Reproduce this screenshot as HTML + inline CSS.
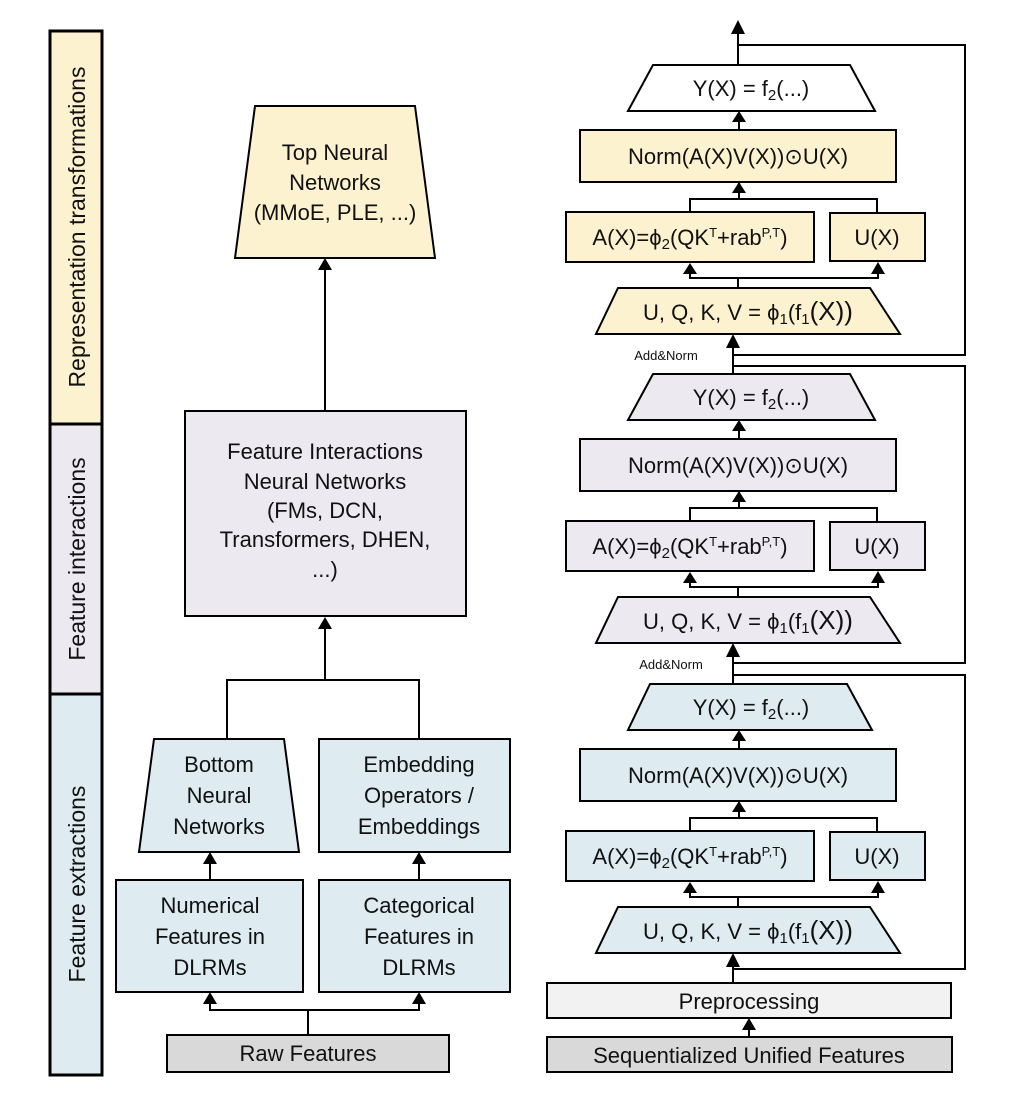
<!DOCTYPE html>
<html><head><meta charset="utf-8"><style>
html,body{margin:0;padding:0;background:#fff}
svg{display:block}
text{font-family:"Liberation Sans",sans-serif;fill:#111}
</style></head><body>
<svg width="1010" height="1112" viewBox="0 0 1010 1112" xmlns="http://www.w3.org/2000/svg">
<defs>
<g id="blk" stroke="#000" stroke-width="2">
  <rect x="580" y="130" width="316" height="52"/>
  <rect x="566" y="212" width="248" height="50"/>
  <rect x="830" y="213" width="95" height="48"/>
  <polygon points="618,288 870,288 900,334 596,334"/>
  <polyline points="690,212 690,199 877,199 877,213" fill="none"/>
  <line x1="739" y1="199" x2="739" y2="183"/>
  <polyline points="690,270 690,278 878,278 878,270" fill="none"/>
  <line x1="738" y1="278" x2="738" y2="288"/>
  <path d="M683,274 L690,263 L697,274Z M871,274 L878,262 L885,274Z M732,193 L739,182 L746,193Z M732,122 L739,111 L746,122Z" fill="#000" stroke="none"/>
  <line x1="739" y1="130" x2="739" y2="118"/>
</g>
</defs>
<!-- sidebar -->
<rect x="50" y="31" width="52" height="393" fill="#fdf2d0" stroke="#000" stroke-width="3"/>
<rect x="50" y="424" width="52" height="270" fill="#ece9f1" stroke="#000" stroke-width="3"/>
<rect x="50" y="694" width="52" height="381" fill="#deebf1" stroke="#000" stroke-width="3"/>
<text transform="translate(85,227) rotate(-90)" text-anchor="middle" font-size="23">Representation transformations</text>
<text transform="translate(85,559) rotate(-90)" text-anchor="middle" font-size="23">Feature interactions</text>
<text transform="translate(85,884) rotate(-90)" text-anchor="middle" font-size="23">Feature extractions</text>

<!-- left diagram -->
<g stroke="#000" stroke-width="2">
<polygon points="255,106 415,106 435,258 235,258" fill="#fdf2d0"/>
<rect x="185" y="411" width="281" height="205" fill="#ece9f1"/>
<line x1="325" y1="411" x2="325" y2="268"/>
<line x1="325" y1="680" x2="325" y2="626"/>
<polyline points="227,739 227,680 419,680 419,739" fill="none"/>
<polygon points="154,739 284,739 299,852 139,852" fill="#deebf1"/>
<rect x="319" y="739" width="191" height="113" fill="#deebf1"/>
<rect x="116" y="880" width="187" height="112" fill="#deebf1"/>
<rect x="319" y="880" width="191" height="112" fill="#deebf1"/>
<line x1="210" y1="880" x2="210" y2="862"/>
<line x1="419" y1="880" x2="419" y2="862"/>
<polyline points="210,1002 210,1010 419,1010 419,1002" fill="none"/>
<line x1="308" y1="1010" x2="308" y2="1035"/>
<rect x="167" y="1035" width="282" height="37" fill="#d9d9d9"/>
</g>
<path d="M318,270 L325,258 L332,270Z M318,629 L325,617 L332,629Z M203,864 L210,852 L217,864Z M412,864 L419,852 L426,864Z M203,1004 L210,992 L217,1004Z M412,1004 L419,992 L426,1004Z" fill="#000"/>
<g font-size="22" text-anchor="middle">
<text x="335" y="160">Top Neural</text><text x="335" y="190">Networks</text><text x="335" y="220">(MMoE, PLE, ...)</text>
<text x="325" y="459">Feature Interactions</text><text x="325" y="489">Neural Networks</text><text x="325" y="518">(FMs, DCN,</text><text x="325" y="547">Transformers, DHEN,</text><text x="325" y="577">...)</text>
<text x="219" y="772">Bottom</text><text x="219" y="803">Neural</text><text x="219" y="834">Networks</text>
<text x="419" y="772">Embedding</text><text x="419" y="803">Operators /</text><text x="419" y="834">Embeddings</text>
<text x="210" y="913">Numerical</text><text x="210" y="944">Features in</text><text x="210" y="975">DLRMs</text>
<text x="419" y="913">Categorical</text><text x="419" y="944">Features in</text><text x="419" y="975">DLRMs</text>
<text x="308" y="1061">Raw Features</text>
</g>

<!-- right diagram -->
<use href="#blk" fill="#fdf2d0"/>
<use href="#blk" y="309" fill="#ece9f1"/>
<use href="#blk" y="619" fill="#deebf1"/>
<g stroke="#000" stroke-width="2">
<polygon points="653,65 850,65 875,111 628,111" fill="#fff"/>
<polygon points="653,374 850,374 875,420 628,420" fill="#ece9f1"/>
<polygon points="650,684 847,684 872,730 628,730" fill="#deebf1"/>
<line x1="738" y1="65" x2="738" y2="32"/>
<polyline points="738,45 965,45 965,355 733,355" fill="none"/>
<line x1="733" y1="374" x2="733" y2="346"/>
<polyline points="733,366 965,366 965,663 733,663" fill="none"/>
<line x1="733" y1="684" x2="733" y2="655"/>
<polyline points="733,675 965,675 965,969 733,969" fill="none"/>
<line x1="733" y1="983" x2="733" y2="964"/>
<line x1="749" y1="1037" x2="749" y2="1028"/>
<rect x="547" y="983" width="404" height="35" fill="#f2f2f2"/>
<rect x="547" y="1037" width="405" height="35" fill="#d9d9d9"/>
</g>
<path d="M731,34 L738,20 L745,34Z M726,348 L733,334 L740,348Z M726,657 L733,643 L740,657Z M726,967 L733,953 L740,967Z M742,1030 L749,1018 L756,1030Z" fill="#000"/>
<g font-size="22" text-anchor="middle">
<text x="751" y="96">Y(X) = f<tspan font-size="15" dy="4">2</tspan><tspan dy="-4">(...)</tspan></text>
<text x="751" y="405">Y(X) = f<tspan font-size="15" dy="4">2</tspan><tspan dy="-4">(...)</tspan></text>
<text x="751" y="715">Y(X) = f<tspan font-size="15" dy="4">2</tspan><tspan dy="-4">(...)</tspan></text>
</g>
<g id="t1" font-size="22" text-anchor="middle">
<text x="738" y="164">Norm(A(X)V(X))⊙U(X)</text>
<text x="690" y="245">A(X)=ϕ<tspan font-size="15" dy="4">2</tspan><tspan dy="-4">(QK</tspan><tspan font-size="13" dy="-8">T</tspan><tspan dy="8">+rab</tspan><tspan font-size="13" dy="-8">P,T</tspan><tspan dy="8">)</tspan></text>
<text x="877" y="245">U(X)</text>
<text x="748" y="320">U, Q, K, V = ϕ<tspan font-size="15" dy="4">1</tspan><tspan dy="-4">(f</tspan><tspan font-size="15" dy="4">1</tspan><tspan dy="-4" font-size="26">(X))</tspan></text>
</g>
<use href="#t1" y="309"/>
<use href="#t1" y="619"/>
<text x="666" y="360" font-size="13" text-anchor="middle">Add&amp;Norm</text>
<text x="671" y="669" font-size="13" text-anchor="middle">Add&amp;Norm</text>
<text x="749" y="1009" font-size="22" text-anchor="middle">Preprocessing</text>
<text x="749" y="1063" font-size="22" text-anchor="middle">Sequentialized Unified Features</text>
</svg>
</body></html>
